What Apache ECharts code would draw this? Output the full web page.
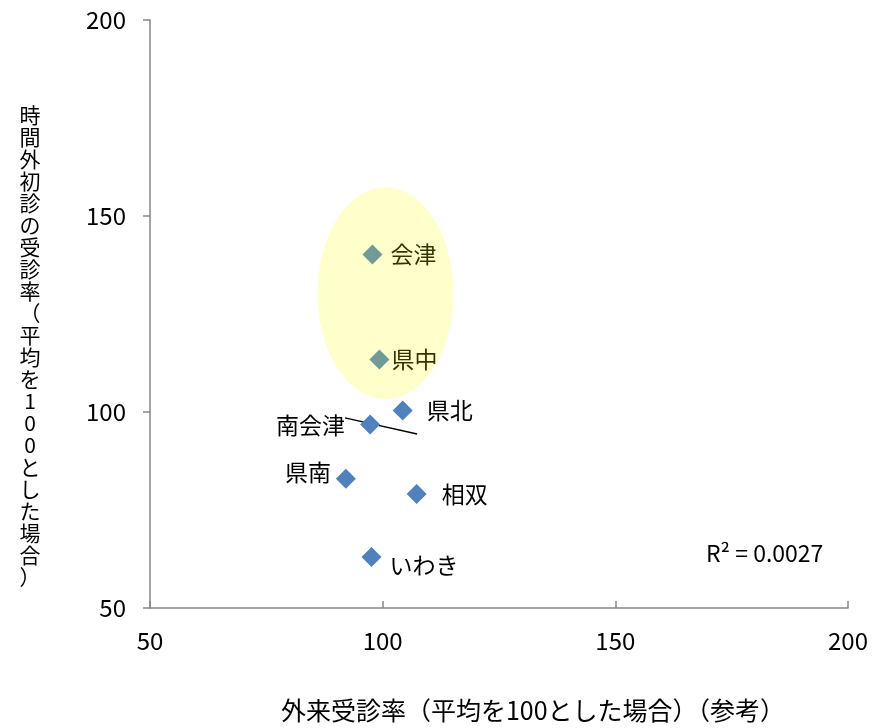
<!DOCTYPE html>
<html>
<head>
<meta charset="utf-8">
<script src="https://cdn.jsdelivr.net/npm/echarts@6/dist/echarts.min.js"></script>
<style>
html,body{margin:0;padding:0;background:#fff;}
#chart{width:884px;height:728px;}
</style>
</head>
<body>
<div id="chart"></div>
<script>
// ---- data ----
const regions = ['会津', '県中', '県北', '南会津', '県南', '相双', 'いわき'];
const outpatientRate = [97.8, 99.3, 104.3, 97.3, 92.1, 107.3, 97.6];
const afterHoursRate = [140.2, 113.4, 100.4, 96.8, 83.0, 79.1, 63.0];
const trendX = [91.9, 107.4];
const trendY = [98.5, 94.4];
// highlighted group ellipse: centre x, centre y, radius x, radius y (data units)
const ellipseData = [100.6, 130.3, 14.6, 27.0];
const xTicks = [50, 100, 150, 200];
const yTicks = [50, 100, 150, 200];
const r2Text = 'R² = 0.0027';
const xName = '外来受診率（平均を100とした場合）（参考）';
const yName = '時間外初診の受診率（平均を100とした場合）';

// ---- label layout (style only) ----
const labelLayout = {
  '会津':   {position: 'right', distance: 8,  offset: [0, 0]},
  '県中':   {position: 'right', distance: 2,  offset: [0, 0]},
  '県北':   {position: 'right', distance: 14, offset: [0, 0]},
  '南会津': {position: 'left',  distance: 15, offset: [0, 1]},
  '県南':   {position: 'left',  distance: 5,  offset: [0, -6]},
  '相双':   {position: 'right', distance: 15, offset: [0, 0]},
  'いわき': {position: 'right', distance: 8,  offset: [0, 8]}
};

const FONT = '"Noto Sans CJK JP", "Noto Sans", sans-serif';

const scatterData = regions.map((name, i) => ({
  name: name,
  value: [outpatientRate[i], afterHoursRate[i]],
  label: {
    show: true,
    formatter: '{b}',
    position: labelLayout[name].position,
    distance: labelLayout[name].distance,
    offset: labelLayout[name].offset,
    color: '#000',
    fontSize: 23,
    fontFamily: FONT
  }
}));

const chart = echarts.init(document.getElementById('chart'));
chart.setOption({
  backgroundColor: '#fff',
  animation: false,
  grid: {left: 150, right: 36, top: 20, bottom: 118, containLabel: false},
  xAxis: {
    type: 'value',
    min: xTicks[0], max: xTicks[xTicks.length - 1], interval: xTicks[1] - xTicks[0],
    name: xName,
    nameLocation: 'middle',
    nameGap: 90,
    nameTextStyle: {color: '#000', fontSize: 25, fontFamily: FONT, padding: [0, 0, 0, 68]},
    axisLine: {show: true, lineStyle: {color: '#868686', width: 1.5}},
    axisTick: {show: true, inside: true, length: 7, lineStyle: {color: '#868686', width: 1.5}},
    axisLabel: {color: '#000', fontSize: 24, fontFamily: FONT, margin: 21},
    splitLine: {show: false}
  },
  yAxis: {
    type: 'value',
    min: yTicks[0], max: yTicks[yTicks.length - 1], interval: yTicks[1] - yTicks[0],
    axisLine: {show: true, lineStyle: {color: '#868686', width: 1.5}},
    axisTick: {show: true, inside: false, length: 7, lineStyle: {color: '#868686', width: 1.5}},
    axisLabel: {color: '#000', fontSize: 24, fontFamily: FONT, margin: 24},
    splitLine: {show: false}
  },
  series: [
    {
      type: 'line',
      data: trendX.map((x, i) => [x, trendY[i]]),
      showSymbol: false,
      symbol: 'none',
      lineStyle: {color: '#000', width: 1.5},
      silent: true,
      z: 1
    },
    {
      type: 'scatter',
      data: scatterData,
      symbol: 'diamond',
      symbolSize: 20,
      itemStyle: {color: '#4F81BD', opacity: 1},
      z: 2
    },
    {
      type: 'custom',
      silent: true,
      z: 5,
      data: [ellipseData],
      renderItem: function (params, api) {
        const cx = api.value(0), cy = api.value(1), rx = api.value(2), ry = api.value(3);
        const pts = [];
        for (let k = 0; k < 120; k++) {
          const t = k / 120 * Math.PI * 2;
          pts.push(api.coord([cx + rx * Math.cos(t), cy + ry * Math.sin(t)]));
        }
        return {
          type: 'polygon',
          shape: {points: pts},
          style: {fill: 'rgba(255,255,0,0.2)', stroke: null}
        };
      },
      encode: {x: 0, y: 1}
    }
  ],
  graphic: [
    {
      type: 'text',
      x: 30, y: 104,
      style: {
        text: yName.split('').join('\n'),
        fill: '#000', fontSize: 21, lineHeight: 22, fontFamily: FONT,
        align: 'center', verticalAlign: 'top'
      }
    },
    {
      type: 'text',
      x: 706, y: 553,
      style: {text: r2Text, fill: '#000', fontSize: 23, fontFamily: FONT, verticalAlign: 'middle'}
    }
  ]
});
</script>
</body>
</html>
